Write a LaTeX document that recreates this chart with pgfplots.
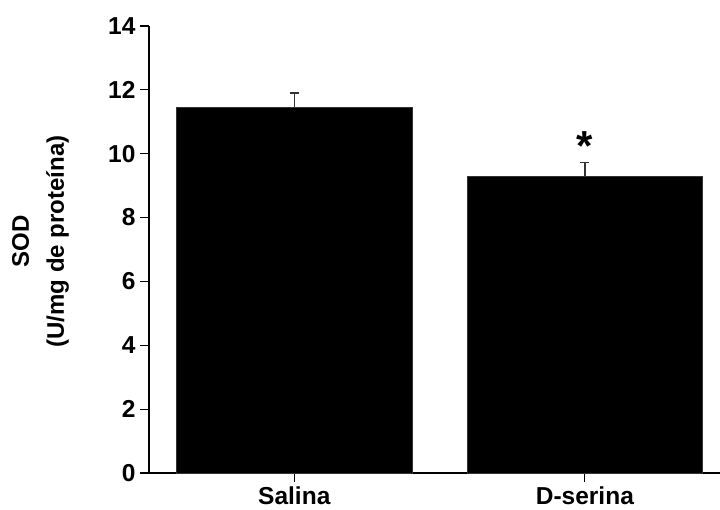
\documentclass[border=0pt]{standalone}
\usepackage{fontspec}
\setmainfont{Liberation Sans}
\usepackage{pgfplots}
\usepackage{pgfplotstable}
\pgfplotsset{compat=1.18}

% SOD activity per group: mean and upper error (SEM)
\pgfplotstableread{
x  y     err
0  11.44 0.46
1  9.28  0.45
}\sodtable

\begin{document}
\begin{tikzpicture}
\useasboundingbox (-149pt,-37pt) rectangle (571pt,473pt);
\begin{axis}[
  scale only axis,
  width=571pt, height=447pt,
  xmin=-0.5, xmax=1.465,
  ymin=0, ymax=14,
  ytick={0,2,...,14},
  xtick={0,1},
  xticklabels={Salina,D-serina},
  axis lines=left,
  axis line style={-, line width=1.3pt},
  tick style={black, line width=1.2pt},
  major tick length=9pt,
  tick align=outside,
  tick label style={font=\fontsize{24.5}{29}\selectfont\bfseries},
  /pgf/number format/assume math mode=true,
  yticklabel style={xshift=-1pt},
  xticklabel style={yshift=-1pt},
  clip=false,
]
\addplot[ybar, bar width=0.81, fill=black, draw=black!80, line width=0.6pt,
  error bars/.cd, y dir=plus, y explicit,
  error bar style={line width=1.3pt, black!80},
  error mark options={rotate=90, mark size=4.5pt, line width=1.3pt, black!80}]
  table[x=x, y=y, y error=err] {\sodtable};
\node[anchor=base, font=\fontsize{42}{46}\selectfont\bfseries] at (axis cs:1,9.79) {*};
\node[rotate=90, align=center, anchor=center,
  font=\fontsize{24}{29}\selectfont\bfseries]
  at ([xshift=-108.5pt]axis description cs:0,0.518) {SOD\\[6pt](U/mg de proteína)};
\end{axis}
\end{tikzpicture}
\end{document}
